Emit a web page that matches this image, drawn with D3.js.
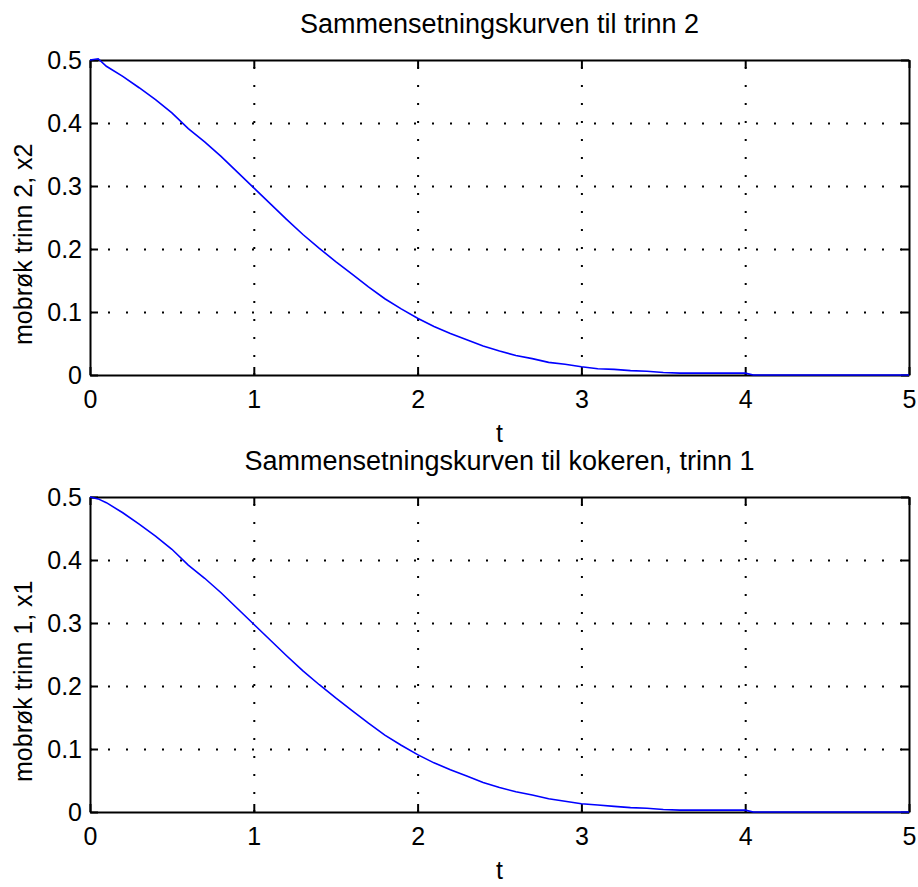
<!DOCTYPE html>
<html>
<head>
<meta charset="utf-8">
<script src="https://cdn.jsdelivr.net/npm/d3@7"></script>
<style>
  body { margin: 0; background: #fff; }
  svg { display: block; font-family: "Liberation Sans", Arial, sans-serif; }
</style>
</head>
<body>
<div id="chart"></div>
<script>
var width = 918,
  height = 887;

// time axis (same for both plots)
var tVals = [0, 0.05, 0.1, 0.2, 0.3, 0.4, 0.5, 0.6, 0.7, 0.8, 0.9, 1.0,
  1.1, 1.2, 1.3, 1.4, 1.5, 1.6, 1.7, 1.8, 1.9, 2.0,
  2.1, 2.2, 2.3, 2.4, 2.5, 2.6, 2.7, 2.8, 2.9, 3.0,
  3.1, 3.2, 3.3, 3.4, 3.5, 3.6, 3.7, 3.8, 3.9, 4.0,
  4.05, 4.1, 4.5, 5.0];

// mole fraction stage 2, x2
var x2Vals = [0.500, 0.502, 0.490, 0.474, 0.456, 0.437, 0.416, 0.391, 0.370, 0.347, 0.322, 0.297,
  0.272, 0.247, 0.223, 0.201, 0.180, 0.160, 0.140, 0.121, 0.105, 0.090,
  0.077, 0.066, 0.056, 0.046, 0.038, 0.031, 0.026, 0.020, 0.017, 0.013,
  0.010, 0.009, 0.007, 0.006, 0.004, 0.003, 0.003, 0.003, 0.003, 0.003,
  0.000, 0.000, 0.000, 0.000];

// mole fraction stage 1 (reboiler), x1
var x1Vals = [0.500, 0.497, 0.491, 0.475, 0.457, 0.438, 0.417, 0.392, 0.371, 0.348, 0.323, 0.298,
  0.273, 0.248, 0.224, 0.202, 0.181, 0.161, 0.141, 0.122, 0.106, 0.091,
  0.078, 0.067, 0.057, 0.047, 0.039, 0.032, 0.027, 0.021, 0.017, 0.013,
  0.011, 0.009, 0.007, 0.006, 0.004, 0.003, 0.003, 0.003, 0.003, 0.003,
  0.000, 0.000, 0.000, 0.000];

var xTicks = [0, 1, 2, 3, 4, 5];
var yTicks = [0, 0.1, 0.2, 0.3, 0.4, 0.5];
var xTickLabels = ["0", "1", "2", "3", "4", "5"];
var yTickLabels = ["0", "0.1", "0.2", "0.3", "0.4", "0.5"];

var panels = [
  { title: "Sammensetningskurven til trinn 2", ylabel: "mobrøk trinn 2, x2", values: x2Vals, top: 60 },
  { title: "Sammensetningskurven til kokeren, trinn 1", ylabel: "mobrøk trinn 1, x1", values: x1Vals, top: 497 }
];

var plotLeft = 90,
  plotW = 819,
  plotH = 315;

var svg = d3.select("#chart").append("svg")
  .attr("width", width)
  .attr("height", height);

var x = d3.scaleLinear().domain([0, 5]).range([0, plotW]);
var y = d3.scaleLinear().domain([0, 0.5]).range([plotH, 0]);

panels.forEach(function(p) {
  var g = svg.append("g")
    .attr("transform", "translate(" + plotLeft + "," + p.top + ")");

  // grid (dotted, MATLAB style)
  g.append("g")
    .attr("class", "grid")
    .attr("transform", "translate(0," + plotH + ")")
    .call(d3.axisBottom(x).tickValues(xTicks.slice(1, -1)).tickSize(-plotH).tickFormat(""))
    .call(function(s) { s.select(".domain").remove(); });
  g.append("g")
    .attr("class", "grid")
    .call(d3.axisLeft(y).tickValues(yTicks.slice(1, -1)).tickSize(-plotW).tickFormat(""))
    .call(function(s) { s.select(".domain").remove(); });
  g.selectAll(".grid line")
    .attr("stroke", "#000")
    .attr("stroke-width", 2)
    .attr("stroke-dasharray", "2,16");

  // axes, ticks pointing inward
  var ax = [
    g.append("g").attr("transform", "translate(0," + plotH + ")")
      .call(d3.axisBottom(x).tickValues(xTicks).tickSizeInner(-8).tickSizeOuter(0).tickPadding(15)
        .tickFormat(function(d, i) { return xTickLabels[i]; })),
    g.append("g")
      .call(d3.axisLeft(y).tickValues(yTicks).tickSizeInner(-8).tickSizeOuter(0).tickPadding(8)
        .tickFormat(function(d, i) { return yTickLabels[i]; })),
    g.append("g")
      .call(d3.axisTop(x).tickValues(xTicks).tickSizeInner(-8).tickSizeOuter(0).tickFormat("")),
    g.append("g").attr("transform", "translate(" + plotW + ",0)")
      .call(d3.axisRight(y).tickValues(yTicks).tickSizeInner(-8).tickSizeOuter(0).tickFormat(""))
  ];
  ax.forEach(function(a) {
    a.select(".domain").attr("stroke", "#000").attr("stroke-width", 2);
    a.selectAll(".tick line").attr("stroke", "#000").attr("stroke-width", 2);
    a.selectAll(".tick text")
      .attr("fill", "#000")
      .style("font-size", "25px")
      .style("font-family", "'Liberation Sans', Arial, sans-serif");
  });

  // data line, drawn over the axes
  var line = d3.line()
    .x(function(d, i) { return x(tVals[i]); })
    .y(function(d) { return y(d); });
  g.append("path")
    .datum(p.values)
    .attr("fill", "none")
    .attr("stroke", "#0000ff")
    .attr("stroke-width", 1.6)
    .attr("d", line);

  // title
  g.append("text")
    .attr("x", plotW / 2)
    .attr("y", -27)
    .attr("text-anchor", "middle")
    .style("font-size", "27px")
    .text(p.title);

  // x label
  g.append("text")
    .attr("x", plotW / 2)
    .attr("y", plotH + 67)
    .attr("text-anchor", "middle")
    .style("font-size", "25px")
    .text("t");

  // y label
  g.append("text")
    .attr("transform", "translate(" + (32 - plotLeft) + "," + (345 - 60) + ") rotate(-90)")
    .attr("text-anchor", "start")
    .style("font-size", "25px")
    .text(p.ylabel);
});
</script>
</body>
</html>
